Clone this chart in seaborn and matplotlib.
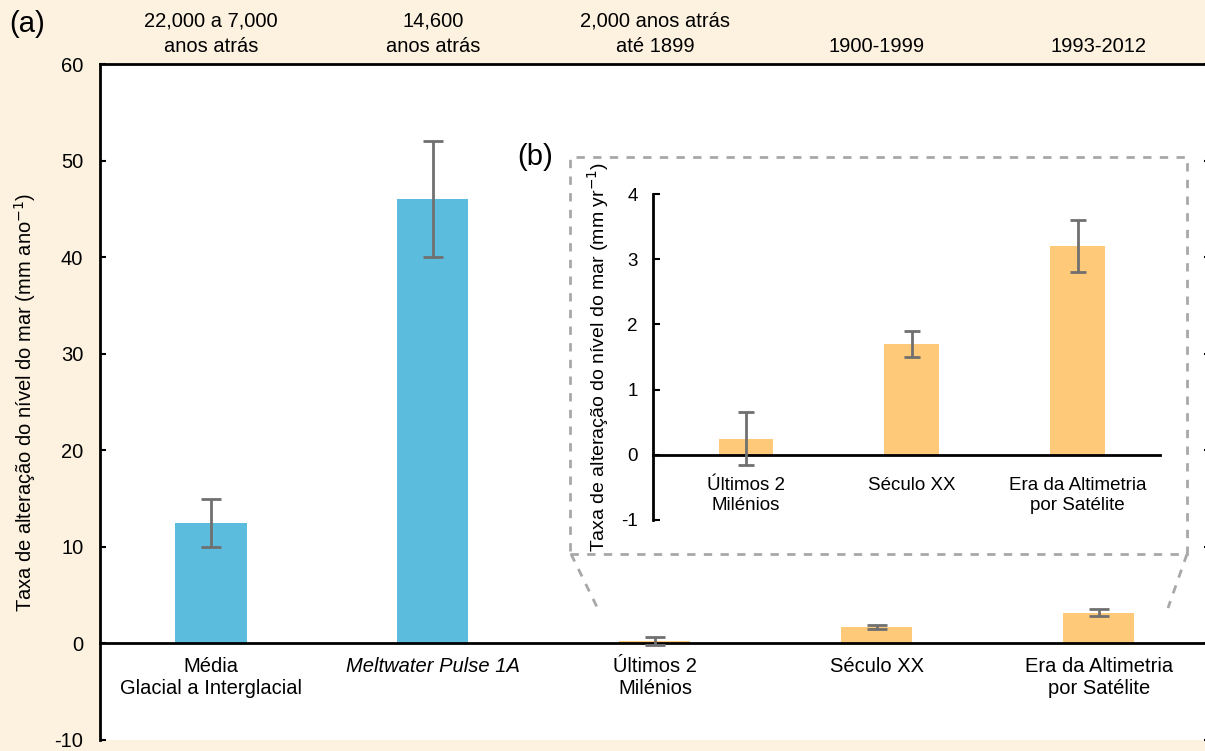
import numpy as np
import pandas as pd
import matplotlib
matplotlib.use("Agg")
import matplotlib.pyplot as plt
import seaborn as sns
from matplotlib.lines import Line2D
from matplotlib.patches import Rectangle

# ---- data ----
main_labels = ["Média\nGlacial a Interglacial", "Meltwater Pulse 1A", "Últimos 2\nMilénios",
               "Século XX", "Era da Altimetria\npor Satélite"]
period_labels = ["22,000 a 7,000\nanos atrás", "14,600\nanos atrás", "2,000 anos atrás\naté 1899",
                 "1900-1999", "1993-2012"]
rates = [12.5, 46.0, 0.25, 1.7, 3.2]
err_low = [10.0, 40.0, -0.15, 1.5, 2.8]
err_high = [15.0, 52.0, 0.65, 1.9, 3.6]
bar_colors = ["#5BBCDD", "#5BBCDD", "#FEC979", "#FEC979", "#FEC979"]

inset_labels = ["Últimos 2\nMilénios", "Século XX", "Era da Altimetria\npor Satélite"]
inset_rates = [0.25, 1.7, 3.2]
inset_low = [-0.15, 1.5, 2.8]
inset_high = [0.65, 1.9, 3.6]

bg = "#FDF2E0"
err_col = "#707070"

plt.rcParams['font.family'] = ['Liberation Sans', 'DejaVu Sans']
plt.rcParams['axes.unicode_minus'] = False
fig = plt.figure(figsize=(12.05, 7.51), dpi=100)
fig.patch.set_facecolor(bg)

# ---- main chart ----
ax = fig.add_axes([0.083, 0.0147, 0.921, 0.900])
df = pd.DataFrame({"cat": main_labels, "rate": rates})
sns.barplot(data=df, x="cat", y="rate", hue="cat", palette=bar_colors, legend=False,
            width=0.32, saturation=1, ax=ax)
x = np.arange(len(rates))
ax.errorbar(x, rates,
            yerr=[np.array(rates) - np.array(err_low), np.array(err_high) - np.array(rates)],
            fmt="none", ecolor=err_col, elinewidth=2, capsize=7, capthick=2, zorder=5)
ax.set_xlim(-0.5, 4.5)
ax.set_ylim(-10, 60)
ax.set_yticks(range(-10, 61, 10))
ax.set_xlabel("")
ax.set_ylabel("Taxa de alteração do nível do mar (mm ano$^{-1}$)", fontsize=14.5, labelpad=12)
ax.spines['bottom'].set_position(('data', 0))
ax.spines['right'].set_visible(False)
for s in ['left', 'top', 'bottom']:
    ax.spines[s].set_linewidth(2)
ax.tick_params(axis='y', direction='in', length=4, width=1.5, labelsize=14.5, pad=12,
               right=True)
ax.tick_params(axis='x', length=0, labelsize=14.5, pad=10)
for t in ax.get_xticklabels():
    if t.get_text().startswith("Meltwater"):
        t.set_style("italic")

# period labels above the chart
for i, lab in enumerate(period_labels):
    ax.text(i, 60.8, lab, ha="center", va="bottom", fontsize=14.5, linespacing=1.45)
fig.text(0.008, 0.968, "(a)", fontsize=21, ha="left", va="center")

# ---- inset ----
ax2 = fig.add_axes([0.542, 0.3076, 0.421, 0.434])
ax2.set_facecolor("none")
df2 = pd.DataFrame({"cat": inset_labels, "rate": inset_rates})
sns.barplot(data=df2, x="cat", y="rate", color="#FEC979", width=0.33, saturation=1, ax=ax2)
xi = np.arange(len(inset_rates))
ax2.errorbar(xi, inset_rates,
             yerr=[np.array(inset_rates) - np.array(inset_low),
                   np.array(inset_high) - np.array(inset_rates)],
             fmt="none", ecolor=err_col, elinewidth=2, capsize=6, capthick=2, zorder=5)
ax2.set_xlim(-0.56, 2.5)
ax2.set_ylim(-1, 4)
ax2.set_yticks(range(-1, 5))
ax2.set_xlabel("")
ax2.set_ylabel("Taxa de alteração do nível do mar (mm yr$^{-1}$)", fontsize=14, labelpad=7)
ax2.spines['bottom'].set_position(('data', 0))
ax2.spines['top'].set_visible(False)
ax2.spines['right'].set_visible(False)
for s in ['left', 'bottom']:
    ax2.spines[s].set_linewidth(2)
ax2.tick_params(axis='y', direction='in', length=5, width=1.5, labelsize=13.5, pad=11)
ax2.tick_params(axis='x', length=0, labelsize=13.5, pad=16)

# dashed box and connector lines (figure coords)
dash = dict(color="#A8A8A8", linestyle=(0, (3, 3)), linewidth=2)
fig.patches.append(Rectangle((570 / 1205, 1 - 554 / 751), (1187 - 570) / 1205, (554 - 157) / 751,
                             transform=fig.transFigure, fill=False, **dash))
fig.lines.append(Line2D([571 / 1205, 597 / 1205], [1 - 554 / 751, 1 - 607 / 751],
                        transform=fig.transFigure, **dash))
fig.lines.append(Line2D([1187 / 1205, 1168 / 1205], [1 - 554 / 751, 1 - 608 / 751],
                        transform=fig.transFigure, **dash))
fig.text(535 / 1205, 1 - 157 / 751, "(b)", fontsize=21, ha="center", va="center")

fig.savefig("out.png", dpi=100, facecolor=bg)
